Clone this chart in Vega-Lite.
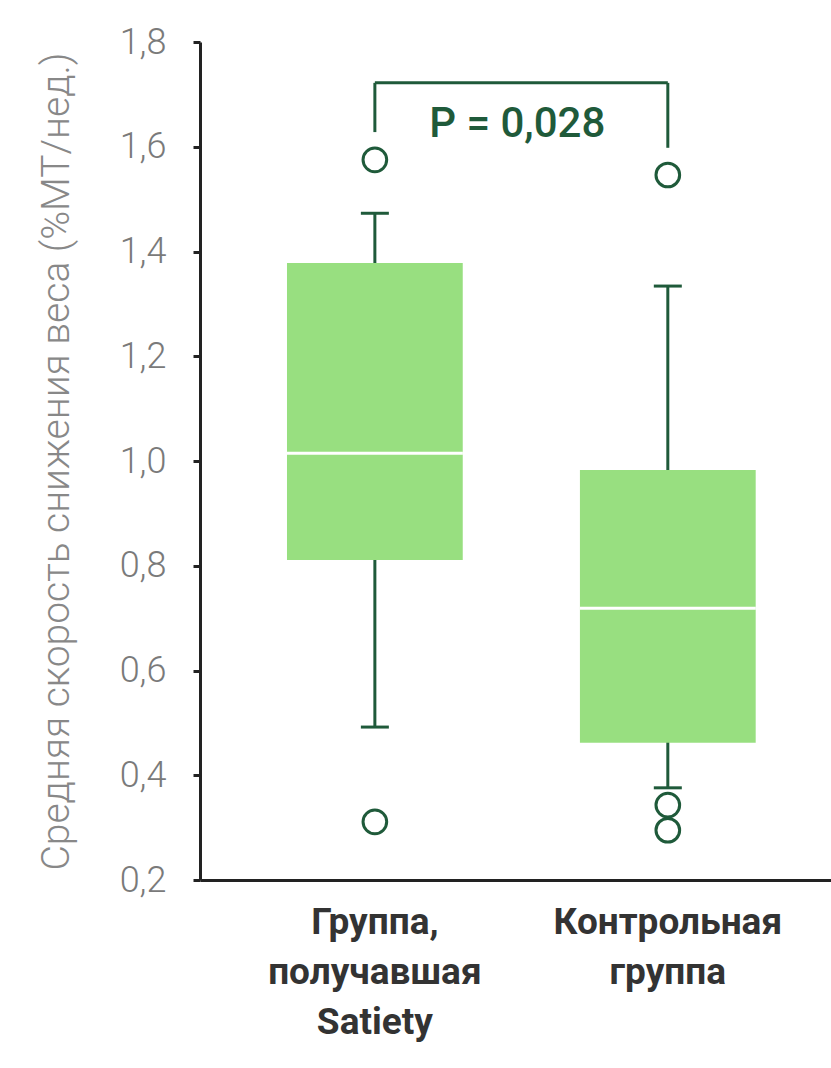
{
  "$schema": "https://vega.github.io/schema/vega-lite/v6.json",
  "autosize": "none",
  "padding": {"left": 200, "top": 42, "right": 0, "bottom": 188},
  "width": 631,
  "height": 838,
  "background": "#ffffff",
  "config": {
    "view": {"stroke": null},
    "font": "Roboto"
  },
  "datasets": {
    "boxes": [
      {"group": "Группа,|получавшая|Satiety", "lower": 0.492, "q1": 0.811, "median": 1.015, "q3": 1.378, "upper": 1.473},
      {"group": "Контрольная|группа", "lower": 0.376, "q1": 0.462, "median": 0.719, "q3": 0.983, "upper": 1.334}
    ],
    "outliers": [
      {"group": "Группа,|получавшая|Satiety", "value": 1.575},
      {"group": "Группа,|получавшая|Satiety", "value": 0.311},
      {"group": "Контрольная|группа", "value": 1.546},
      {"group": "Контрольная|группа", "value": 0.343},
      {"group": "Контрольная|группа", "value": 0.295}
    ],
    "bracket": [
      {"group": "Группа,|получавшая|Satiety", "top": 1.722, "end": 1.628},
      {"group": "Контрольная|группа", "top": 1.722, "end": 1.598}
    ],
    "pvalue": [
      {"group": "Группа,|получавшая|Satiety", "y": 1.619, "label": "P = 0,028"}
    ]
  },
  "encoding": {
    "x": {
      "field": "group",
      "type": "nominal",
      "sort": null,
      "scale": {
        "domain": ["Группа,|получавшая|Satiety", "Контрольная|группа"],
        "paddingInner": 0.4,
        "paddingOuter": 0.277,
        "align": 0.536
      },
      "axis": {
        "title": null,
        "labelAngle": 0,
        "labelExpr": "split(datum.label, '|')",
        "labelFontSize": 37,
        "labelFontWeight": "bold",
        "labelColor": "#333333",
        "labelPadding": 24,
        "labelLineHeight": 50,
        "labelBaseline": "top",
        "labelLimit": 500,
        "ticks": false,
        "domainColor": "#222222",
        "domainWidth": 3
      }
    }
  },
  "layer": [
    {
      "data": {"name": "boxes"},
      "mark": {"type": "rule", "color": "#1f5a3a", "strokeWidth": 3},
      "encoding": {
        "y": {
          "field": "lower",
          "type": "quantitative",
          "scale": {"domain": [0.2, 1.8], "nice": false, "zero": false},
          "axis": {
            "title": "Средняя скорость снижения веса (%МТ/нед.)",
            "values": [0.2, 0.4, 0.6, 0.8, 1.0, 1.2, 1.4, 1.6, 1.8],
            "labelExpr": "replace(format(datum.value, '.1f'), '.', ',')",
            "grid": false,
            "domainColor": "#222222",
            "domainWidth": 3,
            "tickColor": "#222222",
            "tickWidth": 3,
            "tickSize": 7,
            "labelFontSize": 36,
            "labelFontWeight": 300,
            "labelColor": "#7a7a7a",
            "labelPadding": 27,
            "labelLimit": 300,
            "titleFontSize": 39,
            "titleFontWeight": 300,
            "titleColor": "#888888",
            "titlePadding": 43,
            "titleLimit": 1000
          }
        },
        "y2": {"field": "upper"}
      }
    },
    {
      "data": {"name": "boxes"},
      "mark": {"type": "bar", "color": "#98df80"},
      "encoding": {
        "y": {"field": "q1", "type": "quantitative"},
        "y2": {"field": "q3"}
      }
    },
    {
      "data": {"name": "boxes"},
      "mark": {"type": "tick", "color": "#ffffff", "thickness": 3, "size": 176, "opacity": 1},
      "encoding": {
        "y": {"field": "median", "type": "quantitative"}
      }
    },
    {
      "data": {"name": "boxes"},
      "mark": {"type": "tick", "color": "#1f5a3a", "thickness": 3, "size": 28, "opacity": 1},
      "encoding": {
        "y": {"field": "lower", "type": "quantitative"}
      }
    },
    {
      "data": {"name": "boxes"},
      "mark": {"type": "tick", "color": "#1f5a3a", "thickness": 3, "size": 28, "opacity": 1},
      "encoding": {
        "y": {"field": "upper", "type": "quantitative"}
      }
    },
    {
      "data": {"name": "outliers"},
      "mark": {"type": "point", "shape": "circle", "filled": false, "color": "#1f5a3a", "strokeWidth": 3, "size": 560, "opacity": 1},
      "encoding": {
        "y": {"field": "value", "type": "quantitative"}
      }
    },
    {
      "data": {"name": "bracket"},
      "mark": {"type": "rule", "color": "#1f5a3a", "strokeWidth": 3},
      "encoding": {
        "y": {"field": "end", "type": "quantitative"},
        "y2": {"field": "top"}
      }
    },
    {
      "data": {"values": [{"a": "Группа,|получавшая|Satiety", "b": "Контрольная|группа", "top": 1.722}]},
      "mark": {"type": "rule", "color": "#1f5a3a", "strokeWidth": 3},
      "encoding": {
        "x": {"field": "a", "type": "nominal"},
        "x2": {"field": "b"},
        "y": {"field": "top", "type": "quantitative"}
      }
    },
    {
      "data": {"name": "pvalue"},
      "mark": {"type": "text", "color": "#1f5a3a", "fontSize": 42, "fontWeight": 500, "align": "center", "baseline": "alphabetic"},
      "encoding": {
        "x": {"field": "group", "type": "nominal", "bandPosition": 1.31},
        "y": {"field": "y", "type": "quantitative"},
        "text": {"field": "label"}
      }
    }
  ]
}
